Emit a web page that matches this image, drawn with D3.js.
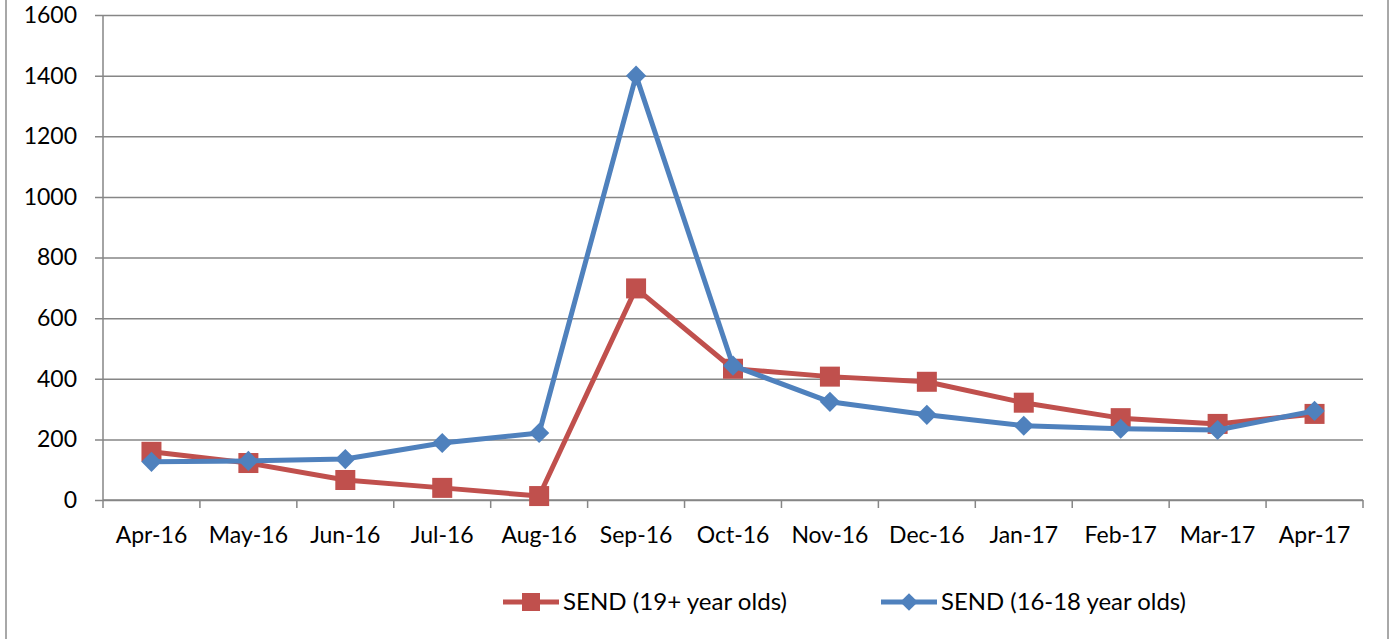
<!DOCTYPE html>
<html>
<head>
<meta charset="utf-8">
<script src="https://cdn.jsdelivr.net/npm/d3@7"></script>
<style>
  body { margin: 0; background: #fff; }
  text { font-family: Lato, "Open Sans", sans-serif; fill: #000; }
</style>
</head>
<body>
<svg id="chart" width="1398" height="639"></svg>
<script>
// chart data
let months = ['Apr-16', 'May-16', 'Jun-16', 'Jul-16', 'Aug-16', 'Sep-16', 'Oct-16',
              'Nov-16', 'Dec-16', 'Jan-17', 'Feb-17', 'Mar-17', 'Apr-17'];
let send19 = [159, 122, 66, 40, 13, 698, 433, 407, 390, 321, 270, 251, 284];
let send16 = [126, 129, 135, 188, 221, 1400, 443, 324, 281, 245, 235, 231, 294];
let yTicks = [0, 200, 400, 600, 800, 1000, 1200, 1400, 1600];
let seriesNames = ['SEND (19+ year olds)', 'SEND (16-18 year olds)'];

let svg = d3.select('#chart');
let red = '#C0504D', blue = '#4F81BD', grid = '#868686';
let fs = 23;

// outer frame
svg.append('rect')
    .attr('x', 6).attr('y', -10)
    .attr('width', 1382).attr('height', 660)
    .attr('fill', 'none')
    .attr('stroke', '#8c8c8c')
    .attr('stroke-width', 1.5);

let x = d3.scaleBand()
    .domain(months)
    .range([103, 1363]);

let y = d3.scaleLinear()
    .domain([0, 1600])
    .range([500, 15]);

// horizontal gridlines + y labels
let yAxis = d3.axisLeft(y)
    .tickValues(yTicks)
    .tickSize(0)
    .tickFormat(d3.format('d'));

let gy = svg.append('g')
    .attr('transform', 'translate(' + 1363 + ',0)')
    .call(yAxis);
gy.select('.domain').remove();
gy.selectAll('.tick line')
    .attr('x1', 0).attr('x2', -1268)
    .attr('stroke', grid)
    .attr('stroke-width', 1.5);
gy.selectAll('.tick text')
    .attr('x', -1268 - 18)
    .attr('font-size', fs)
    .style('font-family', 'Lato, sans-serif');

// vertical axis line
svg.append('line')
    .attr('x1', 103).attr('x2', 103)
    .attr('y1', 15).attr('y2', 500)
    .attr('stroke', grid)
    .attr('stroke-width', 1.5);

// x axis with ticks between categories
let gx = svg.append('g')
    .attr('transform', 'translate(0,500)');
gx.append('line')
    .attr('x1', 103).attr('x2', 1363)
    .attr('stroke', grid).attr('stroke-width', 1.5);
gx.selectAll('.xtick')
    .data(months.concat(['end']))
    .enter().append('line')
    .attr('class', 'xtick')
    .attr('x1', (d, i) => 103 + i * x.step())
    .attr('x2', (d, i) => 103 + i * x.step())
    .attr('y1', 0).attr('y2', 8)
    .attr('stroke', grid).attr('stroke-width', 1.5);
gx.selectAll('.xlabel')
    .data(months)
    .enter().append('text')
    .attr('class', 'xlabel')
    .attr('x', (d) => x(d) + x.bandwidth() / 2)
    .attr('y', 43)
    .attr('text-anchor', 'middle')
    .attr('font-size', fs)
    .text((d) => d);

let cx = (d, i) => x(months[i]) + x.bandwidth() / 2;

let line = d3.line()
    .x(cx)
    .y((d) => y(d));

// red series (19+) drawn first
svg.append('path')
    .datum(send19)
    .attr('fill', 'none')
    .attr('stroke', red)
    .attr('stroke-width', 5)
    .attr('stroke-linejoin', 'round')
    .attr('d', line);

svg.selectAll('.sq')
    .data(send19)
    .enter().append('rect')
    .attr('class', 'sq')
    .attr('x', (d, i) => cx(d, i) - 10)
    .attr('y', (d) => y(d) - 10)
    .attr('width', 20).attr('height', 20)
    .attr('fill', red);

svg.append('path')
    .datum(send16)
    .attr('fill', 'none')
    .attr('stroke', blue)
    .attr('stroke-width', 5)
    .attr('stroke-linejoin', 'round')
    .attr('d', line);

let diamond = d3.symbol().type(d3.symbolDiamond2).size(260);
let diamondSmall = d3.symbol().type(d3.symbolDiamond2).size(200);

svg.selectAll('.dm')
    .data(send16)
    .enter().append('path')
    .attr('class', 'dm')
    .attr('transform', (d, i) => 'translate(' + cx(d, i) + ',' + y(d) + ')')
    .attr('d', diamond)
    .attr('fill', blue);

// legend
let legend = svg.append('g').attr('class', 'legend');
let legItems = [
    { name: seriesNames[0], color: red, x0: 503, shape: 'square', w: 224 },
    { name: seriesNames[1], color: blue, x0: 881, shape: 'diamond', w: 245 }
];
legItems.forEach(function(it) {
    let g = legend.append('g').attr('transform', 'translate(' + it.x0 + ',' + 602 + ')');
    g.append('line')
        .attr('x1', 0).attr('x2', 56)
        .attr('stroke', it.color).attr('stroke-width', 5);
    if (it.shape == 'square') {
        g.append('rect')
            .attr('x', 19).attr('y', -9)
            .attr('width', 18).attr('height', 18)
            .attr('fill', it.color);
    } else {
        g.append('path')
            .attr('transform', 'translate(28,0)')
            .attr('d', diamondSmall)
            .attr('fill', it.color);
    }
    g.append('text')
        .attr('x', 60)
        .attr('y', 8)
        .attr('font-size', fs)
        .attr('textLength', it.w)
        .attr('lengthAdjust', 'spacingAndGlyphs')
        .text(it.name);
});
</script>
</body>
</html>
